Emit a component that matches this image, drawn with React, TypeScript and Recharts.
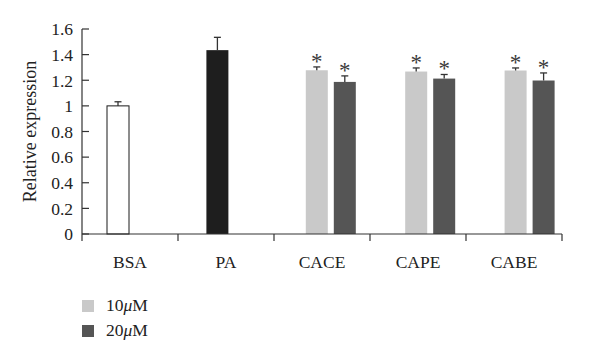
import React from 'react';
import { BarChart, Bar, XAxis, YAxis, Cell } from 'recharts';

const categories = ['BSA', 'PA', 'CACE', 'CAPE', 'CABE'];
const values10 = [1.0, 1.435, 1.278, 1.268, 1.276];
const errors10 = [0.032, 0.1, 0.026, 0.028, 0.02];
const values20: (number | null)[] = [null, null, 1.187, 1.213, 1.198];
const errors20: (number | null)[] = [null, null, 0.047, 0.032, 0.059];
const marked10 = [false, false, true, true, true];
const marked20 = [false, false, true, true, true];
const yTicks = [0, 0.2, 0.4, 0.6, 0.8, 1, 1.2, 1.4, 1.6];
const seriesNames = ['10', '20'];

const data = categories.map((cat, i) => ({
  cat,
  v10: values10[i],
  e10: errors10[i],
  m10: marked10[i],
  v20: values20[i],
  e20: errors20[i],
  m20: marked20[i],
}));

const FONT = '"Liberation Serif", "Times New Roman", serif';
const LIGHT = '#c9c9c9';
const DARK = '#555555';
const AXIS = '#333333';
const fills10 = ['#ffffff', '#1e1e1e', LIGHT, LIGHT, LIGHT];
const strokes10 = ['#1a1a1a', 'none', 'none', 'none', 'none'];

const makeShape = (valKey: string, errKey: string, markKey: string) => (props: any) => {
  const { x, y, width, height, payload, fill, stroke } = props;
  const v = payload[valKey];
  if (v == null || !height) return <g />;
  const ppu = height / v;
  const e = payload[errKey] || 0;
  const cx = x + width / 2;
  const eTop = y - e * ppu;
  return (
    <g>
      <rect x={x} y={y} width={width} height={height} fill={fill} stroke={stroke} strokeWidth={1} />
      <line x1={cx} x2={cx} y1={y} y2={eTop} stroke={AXIS} strokeWidth={1.3} />
      <line x1={cx - 3.5} x2={cx + 3.5} y1={eTop} y2={eTop} stroke={AXIS} strokeWidth={1.3} />
      {payload[markKey] && (
        <text x={cx} y={eTop + 2} textAnchor="middle" fontSize={23} fontFamily={FONT} fill="#3a3a3a">
          *
        </text>
      )}
    </g>
  );
};

const shape10 = makeShape('v10', 'e10', 'm10');
const shape20 = makeShape('v20', 'e20', 'm20');

const XTick = (props: any) => {
  const { x, y, payload, index, width, visibleTicksCount } = props;
  const half = width && visibleTicksCount ? width / visibleTicksCount / 2 : 48;
  return (
    <g>
      <line x1={x - half} x2={x - half} y1={y} y2={y + 7} stroke={AXIS} strokeWidth={1.2} />
      {index === visibleTicksCount - 1 && (
        <line x1={x + half} x2={x + half} y1={y} y2={y + 7} stroke={AXIS} strokeWidth={1.2} />
      )}
      <text x={x} y={y + 34} textAnchor="middle" fontSize={17.5} fontFamily={FONT} fill="#222">
        {payload.value}
      </text>
    </g>
  );
};

const YTick = (props: any) => {
  const { x, y, payload } = props;
  return (
    <g>
      <line x1={x} x2={x + 7} y1={y} y2={y} stroke={AXIS} strokeWidth={1.2} />
      <text x={x - 9} y={y} dy="0.36em" textAnchor="end" fontSize={17.5} fontFamily={FONT} fill="#222">
        {String(payload.value)}
      </text>
    </g>
  );
};

const YLabel = (props: any) => {
  const vb = props.viewBox || {};
  const cx = (vb.x || 0) + 30;
  const cy = (vb.y || 0) + (vb.height || 0) / 2;
  return (
    <text
      x={cx}
      y={cy}
      transform={`rotate(-90, ${cx}, ${cy})`}
      textAnchor="middle"
      dy="0.35em"
      fontSize={18}
      fontFamily={FONT}
      fill="#222"
    >
      Relative expression
    </text>
  );
};

export default function App() {
  const legendColors = [LIGHT, DARK];
  return (
    <div style={{ position: 'absolute', left: 0, top: 0, width: 600, height: 360, background: '#fff' }}>
      <BarChart
        width={600}
        height={360}
        data={data}
        margin={{ top: 29, right: 38, left: 0, bottom: 96 }}
        barGap={6}
      >
        <XAxis
          xAxisId="bars"
          dataKey="cat"
          hide
          height={0}
          padding={{ left: 0, right: -17 }}
        />
        <XAxis
          xAxisId="vis"
          dataKey="cat"
          interval={0}
          tickLine={false}
          tickSize={0}
          tickMargin={0}
          tick={<XTick />}
          axisLine={{ stroke: AXIS, strokeWidth: 1.2 }}
          height={30}
        />
        <YAxis
          domain={[0, 1.6]}
          ticks={yTicks}
          interval={0}
          width={82}
          tickLine={false}
          tickSize={0}
          tickMargin={0}
          tick={<YTick />}
          axisLine={{ stroke: AXIS, strokeWidth: 1.2 }}
          label={<YLabel />}
        />
        <Bar xAxisId="bars" dataKey="v10" fill={LIGHT} barSize={22} shape={shape10} isAnimationActive={false}>
          {data.map((d, i) => (
            <Cell key={d.cat} fill={fills10[i]} stroke={strokes10[i]} />
          ))}
        </Bar>
        <Bar xAxisId="bars" dataKey="v20" fill={DARK} barSize={22} shape={shape20} isAnimationActive={false} />
      </BarChart>
      <div style={{ position: 'absolute', left: 82, top: 293, fontFamily: FONT, fontSize: 17.5, color: '#222' }}>
        {seriesNames.map((n, i) => (
          <div key={n} style={{ display: 'flex', alignItems: 'center', height: 25 }}>
            <span style={{ display: 'inline-block', width: 12, height: 12, background: legendColors[i], marginRight: 12 }} />
            <span>
              {n}
              <i>μ</i>M
            </span>
          </div>
        ))}
      </div>
    </div>
  );
}
